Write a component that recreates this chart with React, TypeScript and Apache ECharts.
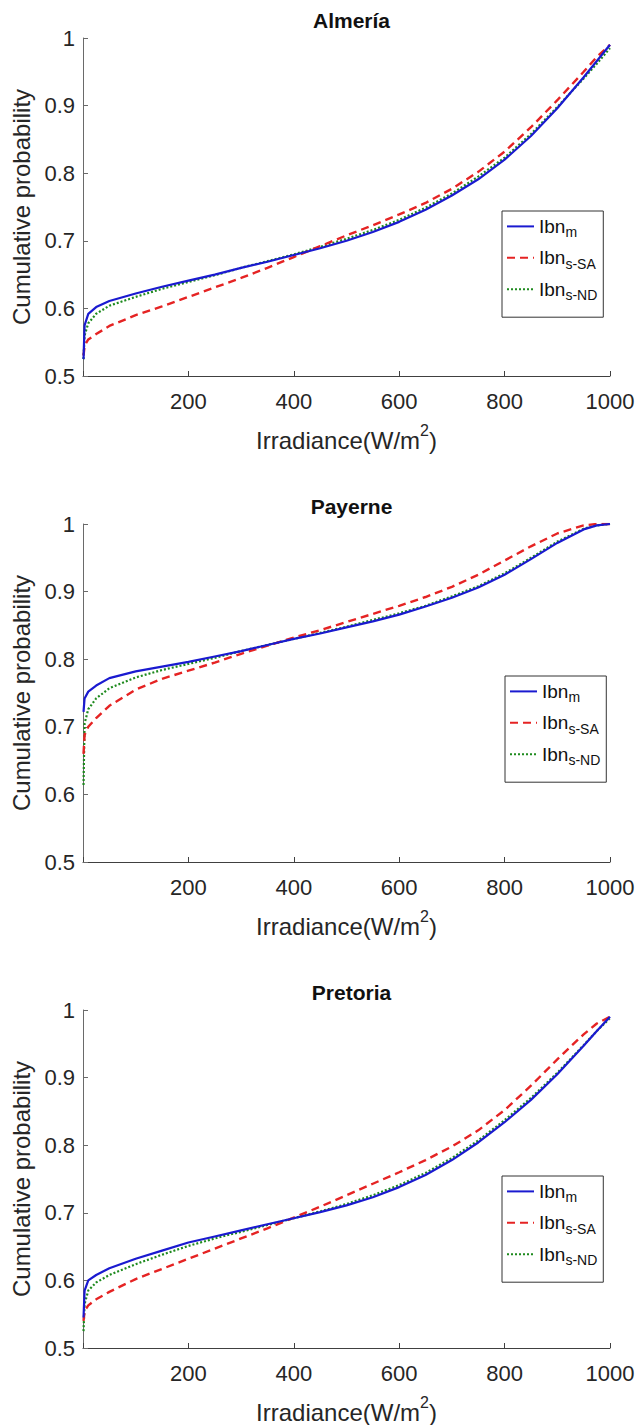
import React, { useEffect, useRef } from "react";
import * as echarts from "echarts";

const X = [1, 3, 10, 25, 50, 100, 150, 200, 250, 300, 350, 400, 450, 500, 550, 600, 650, 700, 750, 800, 850, 900, 950, 975, 1000];

const TITLES = ["Almería", "Payerne", "Pretoria"];
const SERIES_NAMES = ["Ibn_m", "Ibn_s-SA", "Ibn_s-ND"];
const LEGEND_SUBS = ["m", "s-SA", "s-ND"];
const X_TICK_MIN = 0;
const X_TICK_MAX = 1000;
const X_TICK_STEP = 200;
const Y_TICK_MIN = 0.5;
const Y_TICK_MAX = 1;
const Y_TICK_STEP = 0.1;

// Almería
const almeriaM = [0.525, 0.575, 0.592, 0.602, 0.611, 0.622, 0.632, 0.641, 0.650, 0.660, 0.669, 0.679, 0.689, 0.700, 0.713, 0.728, 0.746, 0.767, 0.791, 0.820, 0.855, 0.896, 0.942, 0.966, 0.990];
const almeriaSA = [0.530, 0.545, 0.554, 0.562, 0.574, 0.590, 0.603, 0.617, 0.631, 0.645, 0.660, 0.676, 0.692, 0.708, 0.723, 0.739, 0.756, 0.777, 0.802, 0.832, 0.868, 0.908, 0.950, 0.972, 0.990];
const almeriaND = [0.525, 0.560, 0.578, 0.592, 0.604, 0.617, 0.629, 0.639, 0.649, 0.660, 0.670, 0.680, 0.691, 0.703, 0.716, 0.731, 0.749, 0.770, 0.795, 0.823, 0.858, 0.898, 0.940, 0.962, 0.985];

// Payerne
const payerneM = [0.722, 0.742, 0.752, 0.761, 0.772, 0.782, 0.789, 0.796, 0.804, 0.812, 0.821, 0.830, 0.838, 0.847, 0.856, 0.866, 0.878, 0.891, 0.906, 0.925, 0.948, 0.972, 0.992, 0.998, 1.0];
const payerneSA = [0.660, 0.688, 0.700, 0.713, 0.731, 0.755, 0.771, 0.783, 0.795, 0.808, 0.820, 0.832, 0.843, 0.855, 0.867, 0.879, 0.892, 0.907, 0.925, 0.946, 0.967, 0.986, 0.998, 1.0, 1.0];
const payerneND = [0.614, 0.705, 0.726, 0.742, 0.757, 0.773, 0.784, 0.793, 0.802, 0.812, 0.821, 0.830, 0.839, 0.848, 0.858, 0.868, 0.879, 0.893, 0.908, 0.927, 0.950, 0.974, 0.993, 0.998, 1.0];

// Pretoria
const pretoriaM = [0.545, 0.585, 0.600, 0.608, 0.618, 0.632, 0.644, 0.656, 0.665, 0.674, 0.683, 0.692, 0.701, 0.711, 0.723, 0.738, 0.756, 0.778, 0.804, 0.834, 0.867, 0.905, 0.947, 0.969, 0.990];
const pretoriaSA = [0.540, 0.555, 0.563, 0.572, 0.583, 0.602, 0.617, 0.632, 0.647, 0.662, 0.677, 0.693, 0.709, 0.726, 0.743, 0.760, 0.778, 0.798, 0.822, 0.852, 0.888, 0.927, 0.964, 0.980, 0.990];
const pretoriaND = [0.525, 0.565, 0.585, 0.597, 0.608, 0.624, 0.638, 0.651, 0.662, 0.672, 0.682, 0.692, 0.702, 0.713, 0.726, 0.741, 0.759, 0.781, 0.807, 0.837, 0.870, 0.907, 0.948, 0.969, 0.988];

const PANELS = [
  [almeriaM, almeriaSA, almeriaND],
  [payerneM, payerneSA, payerneND],
  [pretoriaM, pretoriaSA, pretoriaND],
];

const FONT = "'Liberation Sans', Arial, Helvetica, sans-serif";
const GRID_TOPS = [38, 524, 1010];
const GRID_LEFT = 83;
const GRID_W = 527;
const GRID_H = 338;
const LEGEND_POS = [
  { left: 502, top: 211 },
  { left: 505, top: 676 },
  { left: 502, top: 1176 },
];
const COLORS = ["#1a1ad0", "#e52323", "#1e8a1e"];
const LINE_TYPES: any[] = ["solid", [8, 5], [2, 2]];
const LINE_WIDTHS = [2.2, 2.4, 2.2];

export default function App() {
  const ref = useRef<HTMLDivElement>(null);
  useEffect(() => {
    document.body.style.margin = "0";
    if (!ref.current) return;
    const chart = echarts.init(ref.current, undefined, { renderer: "svg" });

    const grid = GRID_TOPS.map((t) => ({ left: GRID_LEFT, top: t, width: GRID_W, height: GRID_H }));

    const axisLineColor = "#404040";
    const xAxis = GRID_TOPS.map((_, i) => ({
      type: "value",
      gridIndex: i,
      min: X_TICK_MIN,
      max: X_TICK_MAX,
      interval: X_TICK_STEP,
      name: "{a|Irradiance(W/m}{sup|2}{a|)}",
      nameLocation: "middle",
      nameGap: 46,
      nameTextStyle: {
        rich: {
          a: { fontSize: 24, color: "#262626", fontFamily: FONT, verticalAlign: "bottom", lineHeight: 30 },
          sup: { fontSize: 16, color: "#262626", fontFamily: FONT, verticalAlign: "top", lineHeight: 16 },
        },
      },
      axisLine: { show: true, onZero: false, lineStyle: { color: axisLineColor, width: 1 } },
      axisTick: { show: true, inside: true, length: 5, lineStyle: { color: axisLineColor } },
      splitLine: { show: false },
      axisLabel: {
        fontSize: 22,
        color: "#262626",
        fontFamily: FONT,
        margin: 14,
        formatter: (v: number) => (v === 0 ? "" : String(v)),
      },
    }));

    const yAxis = GRID_TOPS.map((_, i) => ({
      type: "value",
      gridIndex: i,
      min: Y_TICK_MIN,
      max: Y_TICK_MAX,
      interval: Y_TICK_STEP,
      name: "Cumulative probability",
      nameLocation: "middle",
      nameGap: 45,
      nameTextStyle: { fontSize: 24, color: "#262626", fontFamily: FONT },
      axisLine: { show: true, onZero: false, lineStyle: { color: "#6a6a6a", width: 1 } },
      axisTick: { show: true, inside: true, length: 5, lineStyle: { color: "#6a6a6a" } },
      splitLine: { show: false },
      axisLabel: {
        fontSize: 22,
        color: "#262626",
        fontFamily: FONT,
        margin: 8,
        formatter: (v: number) => String(Math.round(v * 10) / 10),
      },
    }));

    const title = TITLES.map((t, i) => ({
      text: t,
      left: GRID_LEFT + GRID_W / 2,
      textAlign: "center",
      top: GRID_TOPS[i] - 33,
      textStyle: { fontSize: 21, fontWeight: "bold", color: "#111", fontFamily: FONT },
    }));

    const series: any[] = [];
    PANELS.forEach((panel, p) => {
      panel.forEach((vals, s) => {
        series.push({
          name: SERIES_NAMES[s],
          type: "line",
          xAxisIndex: p,
          yAxisIndex: p,
          showSymbol: false,
          symbol: "none",
          smooth: false,
          z: 3 - s,
          data: X.map((x, k) => [x, vals[k]]),
          lineStyle: { color: COLORS[s], width: LINE_WIDTHS[s], type: LINE_TYPES[s] },
          itemStyle: { color: COLORS[s] },
        });
      });
    });

    const legend = LEGEND_POS.map((pos) => ({
      ...pos,
      orient: "vertical",
      data: SERIES_NAMES,
      backgroundColor: "#fff",
      borderColor: "#333",
      borderWidth: 1,
      borderRadius: 0,
      padding: [5, 6, 15, 4],
      itemGap: 8,
      itemWidth: 27,
      itemHeight: 26,
      itemStyle: { opacity: 0 },
      selectedMode: false,
      formatter: (name: string) => {
        const idx = SERIES_NAMES.indexOf(name);
        return "{b|Ibn}{s|" + LEGEND_SUBS[idx] + "}";
      },
      textStyle: {
        color: "#111",
        fontFamily: FONT,
        rich: {
          b: { fontSize: 19, fontFamily: FONT, color: "#111", lineHeight: 26, verticalAlign: "middle" },
          s: { fontSize: 14, fontFamily: FONT, color: "#111", lineHeight: 14, verticalAlign: "bottom" },
        },
      },
    }));

    chart.setOption({
      animation: false,
      backgroundColor: "#fff",
      title,
      grid,
      xAxis,
      yAxis,
      legend,
      series,
    });
    return () => chart.dispose();
  }, []);
  return <div ref={ref} style={{ width: 638, height: 1425 }} />;
}
